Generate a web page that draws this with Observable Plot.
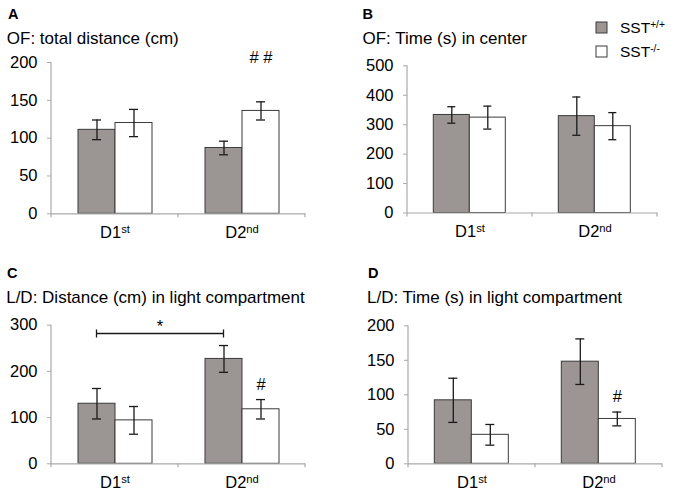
<!DOCTYPE html>
<html><head><meta charset="utf-8">
<script src="https://cdn.jsdelivr.net/npm/d3@7"></script>
<script src="https://cdn.jsdelivr.net/npm/@observablehq/plot@0.6"></script>
<style>
body{margin:0;background:#fff;}
#fig{position:relative;width:675px;height:495px;overflow:hidden;background:#fff;font-family:"Liberation Sans",Arial,Helvetica,sans-serif;}
.panel{position:absolute;}
.panel svg{overflow:visible;display:block;}
#overlay{position:absolute;left:0;top:0;pointer-events:none;}
g[aria-label="y-axis tick"]{color:#a9a9a9;}
g[aria-label="y-axis"] line, g[aria-label="y-axis"] path{stroke:#a9a9a9;}
</style></head><body><div id="fig"></div>
<script>
// ---------- data ----------
const days = ["D1st", "D2nd"];
const genotypes = ["+/+", "-/-"];
const panelLetters = ["A", "B", "C", "D"];
const panelTitles = [
  "OF: total distance (cm)",
  "OF: Time (s) in center",
  "L/D: Distance (cm) in light compartment",
  "L/D: Time (s) in light compartment"
];
const yTicksA = [0, 50, 100, 150, 200];
const yTicksB = [0, 100, 200, 300, 400, 500];
const yTicksC = [0, 100, 200, 300];
const yTicksD = [0, 50, 100, 150, 200];
// order of values: D1st +/+, D1st -/-, D2nd +/+, D2nd -/-
const meanA = [111, 120, 87, 136];
const errA  = [13, 18, 9, 12];
const meanB = [333, 324, 329, 295];
const errB  = [28, 39, 65, 46];
const meanC = [130, 94, 227, 118];
const errC  = [33, 30, 29, 21];
const meanD = [92, 42, 148, 65];
const errD  = [32, 15, 33, 10];
const noteA = ["", "", "", "# #"];
const noteYA = [0, 0, 0, 199];
const noteC = ["", "", "", "#"];
const noteYC = [0, 0, 0, 160];
const noteD = ["", "", "", "#"];
const noteYD = [0, 0, 0, 89];
const bracketC = {from: ["D1st", "+/+"], to: ["D2nd", "+/+"], y: 281, label: "*", labelY: 284};
const legendLabels = ["SST", "SST"];
const legendSups = ["+/+", "-/-"];

// ---------- style ----------
const FONT = '"Liberation Sans", Arial, Helvetica, sans-serif';
const GRAY = "#9b9693";
const OUTLINE = "#3a3a3a";
const AXIS = "#a9a9a9";
const ERR = "#1a1a1a";

function rowsOf(mean, err, note, noteY) {
  const rows = [];
  let k = 0;
  for (const day of days) for (const genotype of genotypes) {
    rows.push({day, genotype, mean: mean[k], err: err[k], note: note ? note[k] : "", noteY: noteY ? noteY[k] : 0});
    k++;
  }
  return rows;
}

const panels = [
  {rows: rowsOf(meanA, errA, noteA, noteYA), ticks: yTicksA, left: 0, top: 48, width: 340, height: 200, ml: 51, mr: 35, mt: 14, mb: 34.7},
  {rows: rowsOf(meanB, errB), ticks: yTicksB, left: 340, top: 48, width: 335, height: 200, ml: 66.7, mr: 17.1, mt: 17.3, mb: 35.5},
  {rows: rowsOf(meanC, errC, noteC, noteYC), ticks: yTicksC, left: 0, top: 298, width: 340, height: 197, ml: 51, mr: 35, mt: 26.7, mb: 31.7, bracket: bracketC},
  {rows: rowsOf(meanD, errD, noteD, noteYD), ticks: yTicksD, left: 340, top: 298, width: 335, height: 197, ml: 67.7, mr: 13.3, mt: 27.3, mb: 31.7}
];

const fig = document.getElementById("fig");
const SVGNS = "http://www.w3.org/2000/svg";

for (const p of panels) {
  const rows = p.rows;
  const ymax = p.ticks[p.ticks.length - 1];
  const plot = Plot.plot({
    width: p.width, height: p.height,
    marginLeft: p.ml, marginRight: p.mr, marginTop: p.mt, marginBottom: p.mb,
    style: {fontFamily: FONT, fontSize: "16.5px", color: "#000", background: "transparent", overflow: "visible"},
    facet: {data: rows, x: "day"},
    fx: {domain: days, padding: 0, axis: "bottom", label: null, tickSize: 0, tickPadding: 12},
    x: {domain: genotypes, paddingInner: 0, paddingOuter: 0.716, axis: null},
    y: {domain: [0, ymax], ticks: p.ticks, tickSize: 4, tickPadding: 10, label: null},
    color: {domain: genotypes, range: [GRAY, "#ffffff"]},
    marks: [
      Plot.barY(rows, {x: "genotype", y: "mean", fill: "genotype", stroke: OUTLINE, strokeWidth: 1}),
      Plot.ruleY([0], {stroke: AXIS, strokeWidth: 1.2}),
      Plot.ruleX(rows, {x: "genotype", y1: d => d.mean - d.err, y2: d => d.mean + d.err, stroke: ERR, strokeWidth: 1.3}),
      Plot.tickY(rows, {x: "genotype", y: d => d.mean + d.err, stroke: ERR, strokeWidth: 1.3, insetLeft: 14, insetRight: 14}),
      Plot.tickY(rows, {x: "genotype", y: d => d.mean - d.err, stroke: ERR, strokeWidth: 1.3, insetLeft: 14, insetRight: 14}),
      Plot.text(rows, {filter: d => d.note, x: "genotype", y: "noteY", text: "note", lineAnchor: "bottom", fontSize: 16.5, fill: "#000"})
    ]
  });

  // superscripts on category labels
  plot.querySelectorAll('g[aria-label^="fx-axis"] text').forEach(t => {
    const m = /^(D\d)(st|nd|rd|th)$/.exec(t.textContent.trim());
    if (!m) return;
    t.textContent = m[1];
    const ts = document.createElementNS(SVGNS, "tspan");
    ts.setAttribute("font-size", "0.68em");
    ts.setAttribute("dy", "-0.42em");
    ts.textContent = m[2];
    t.appendChild(ts);
  });

  // axis line, category separator ticks and the significance bracket from the scales
  const fx = plot.scale("fx"), x = plot.scale("x"), y = plot.scale("y");
  const g = d3.select(plot).append("g").attr("aria-label", "decorations");
  const y0 = y.apply(0), yTop = y.apply(ymax);
  const leftEdge = fx.apply(days[0]);
  const rightEdge = fx.apply(days[days.length - 1]) + fx.bandwidth;
  g.append("line").attr("x1", leftEdge).attr("x2", leftEdge).attr("y1", y0).attr("y2", yTop)
    .attr("stroke", AXIS).attr("stroke-width", 1.2);
  const bounds = days.map(d => fx.apply(d)).concat([rightEdge]);
  g.selectAll("line.sep").data(bounds).join("line").attr("class", "sep")
    .attr("x1", d => d).attr("x2", d => d).attr("y1", y0).attr("y2", y0 + 4)
    .attr("stroke", AXIS).attr("stroke-width", 1.2);
  if (p.bracket) {
    const cx = ([day, gen]) => fx.apply(day) + x.apply(gen) - x.range[0] + x.bandwidth / 2;
    const x1 = cx(p.bracket.from), x2 = cx(p.bracket.to), by = y.apply(p.bracket.y);
    g.append("line").attr("x1", x1).attr("x2", x2).attr("y1", by).attr("y2", by).attr("stroke", ERR).attr("stroke-width", 1.3);
    for (const xx of [x1, x2]) g.append("line").attr("x1", xx).attr("x2", xx).attr("y1", by - 4).attr("y2", by + 4).attr("stroke", ERR).attr("stroke-width", 1.3);
    g.append("text").attr("x", (x1 + x2) / 2).attr("y", y.apply(p.bracket.labelY)).attr("text-anchor", "middle")
      .attr("font-size", 16.5).attr("font-family", FONT).attr("fill", "#000").text(p.bracket.label);
  }

  const div = document.createElement("div");
  div.className = "panel";
  div.style.left = p.left + "px";
  div.style.top = p.top + "px";
  div.appendChild(plot);
  fig.appendChild(div);
}

// ---------- panel letters, titles and legend ----------
const ov = d3.select(fig).append("svg").attr("id", "overlay").attr("width", 675).attr("height", 495)
  .attr("font-family", FONT);
const letterPos = [[8, 19], [362.5, 19.3], [7, 278.3], [368, 278.3]];
const titlePos = [[6.8, 43.8], [362.5, 44.2], [6.2, 303.3], [367, 303.3]];
panelLetters.forEach((L, i) => {
  ov.append("text").attr("x", letterPos[i][0]).attr("y", letterPos[i][1]).attr("font-size", 14.5).attr("font-weight", "bold").attr("fill", "#000").text(L);
  ov.append("text").attr("x", titlePos[i][0]).attr("y", titlePos[i][1]).attr("font-size", 17).attr("fill", "#000").text(panelTitles[i]);
});
const legColors = [GRAY, "#ffffff"];
legendLabels.forEach((lab, i) => {
  const yy = 22 + i * 24;
  ov.append("rect").attr("x", 596).attr("y", yy).attr("width", 11).attr("height", 11)
    .attr("fill", legColors[i]).attr("stroke", OUTLINE).attr("stroke-width", 1);
  const t = ov.append("text").attr("x", 620).attr("y", yy + 11).attr("font-size", 15.5).attr("fill", "#000").text(lab);
  t.append("tspan").attr("font-size", "0.66em").attr("dy", "-0.5em").text(legendSups[i]);
});
</script></body></html>
